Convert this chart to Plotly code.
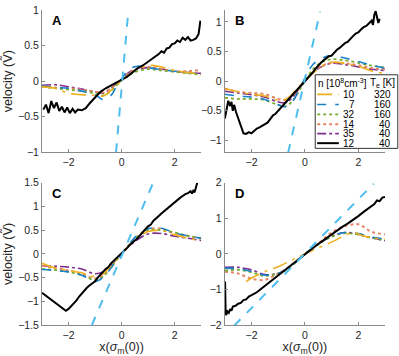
import plotly.graph_objects as go

# ---------------- data ----------------
X_GRID = [-3, -2.5, -2, -1.5, -1, -0.7, -0.4, -0.2, 0, 0.3, 0.6, 1, 1.5, 2, 2.5, 3]

N_LABELS = ["10", "7", "32", "14", "35", "12"]
TE_LABELS = ["320", "160", "160", "40", "40", "40"]

# Panel A
A_10 = [-0.08, -0.10, -0.17, -0.19, -0.20, -0.21, -0.13, -0.06, 0.0, 0.10, 0.17, 0.22, 0.20, 0.15, 0.12, 0.10]
A_7 = [-0.07, -0.09, -0.10, -0.14, -0.19, -0.26, -0.20, -0.08, 0.03, 0.17, 0.21, 0.19, 0.16, 0.14, 0.12, 0.10]
A_32 = [-0.08, -0.10, -0.12, -0.14, -0.17, -0.20, -0.14, -0.06, 0.01, 0.09, 0.14, 0.17, 0.15, 0.13, 0.11, 0.09]
A_14 = [-0.07, -0.09, -0.10, -0.12, -0.15, -0.16, -0.10, -0.04, 0.02, 0.12, 0.18, 0.20, 0.17, 0.14, 0.14, 0.16]
A_35 = [-0.06, -0.05, -0.08, -0.11, -0.15, -0.17, -0.10, -0.03, 0.03, 0.13, 0.17, 0.19, 0.17, 0.14, 0.12, 0.11]
A_12_x = [-2.95, -2.85, -2.75, -2.65, -2.55, -2.45, -2.35, -2.25, -2.15, -2.05, -1.95, -1.85, -1.75, -1.65,
          -1.5, -1.35, -1.2, -1.0, -0.8, -0.6, -0.4, -0.2, 0, 0.2, 0.4, 0.6, 0.8, 1.0, 1.2, 1.4, 1.5, 1.6,
          1.7, 1.8, 1.9, 2.0, 2.1, 2.2, 2.3, 2.4, 2.5, 2.6, 2.7, 2.8, 2.9, 2.97]
A_12_y = [-0.40, -0.33, -0.45, -0.28, -0.38, -0.30, -0.42, -0.36, -0.44, -0.37, -0.45, -0.39, -0.44, -0.40,
          -0.41, -0.38, -0.31, -0.23, -0.15, -0.10, -0.06, -0.02, 0.01, 0.06, 0.12, 0.18, 0.22, 0.27, 0.32,
          0.38, 0.42, 0.40, 0.46, 0.47, 0.52, 0.53, 0.57, 0.55, 0.61, 0.58, 0.62, 0.57, 0.58, 0.60, 0.66, 0.85]
A_FIT_X = [-0.21, 0.26]
A_FIT_Y = [-1.0, 1.02]

# Panel B
B_10 = [-0.12, -0.18, -0.22, -0.25, -0.32, -0.30, -0.18, -0.08, 0.0, 0.13, 0.24, 0.32, 0.30, 0.25, 0.17, 0.13]
B_7 = [-0.22, -0.25, -0.27, -0.31, -0.40, -0.43, -0.30, -0.13, 0.05, 0.28, 0.38, 0.43, 0.39, 0.33, 0.27, 0.22]
B_32 = [-0.28, -0.30, -0.30, -0.32, -0.40, -0.42, -0.30, -0.15, 0.0, 0.20, 0.31, 0.37, 0.35, 0.31, 0.26, 0.23]
B_14 = [-0.13, -0.18, -0.20, -0.22, -0.30, -0.32, -0.22, -0.10, 0.0, 0.15, 0.25, 0.31, 0.30, 0.27, 0.22, 0.20]
B_35 = [-0.17, -0.20, -0.23, -0.27, -0.35, -0.36, -0.24, -0.11, 0.0, 0.15, 0.24, 0.30, 0.28, 0.24, 0.20, 0.18]
B_12_x = [-3.0, -2.93, -2.87, -2.8, -2.75, -2.7, -2.65, -2.58, -2.5, -2.4, -2.3, -2.2, -2.1, -2.0, -1.9, -1.8,
          -1.7, -1.6, -1.5, -1.4, -1.3, -1.2, -1.1, -1.0, -0.9, -0.8, -0.7, -0.6, -0.5, -0.4, -0.3, -0.2,
          -0.1, 0, 0.1, 0.2, 0.3, 0.4, 0.5, 0.6, 0.7, 0.8, 0.9, 1.0, 1.1, 1.2, 1.3, 1.4, 1.5, 1.6, 1.7,
          1.8, 1.9, 2.0, 2.1, 2.2, 2.3, 2.4, 2.5, 2.55, 2.6, 2.65, 2.7, 2.75, 2.8]
B_12_y = [-0.63, -0.45, -0.33, -0.42, -0.35, -0.50, -0.40, -0.52, -0.62, -0.75, -0.88, -0.89, -0.86, -0.88,
          -0.84, -0.80, -0.78, -0.75, -0.73, -0.70, -0.64, -0.58, -0.55, -0.50, -0.46, -0.40, -0.35, -0.30,
          -0.25, -0.20, -0.15, -0.10, -0.05, 0.0, 0.05, 0.10, 0.15, 0.21, 0.27, 0.31, 0.35, 0.38, 0.42, 0.43,
          0.49, 0.53, 0.56, 0.60, 0.64, 0.66, 0.72, 0.76, 0.80, 0.82, 0.87, 0.91, 0.93, 0.98, 1.02, 0.95,
          1.12, 1.18, 1.10, 0.98, 1.05]
B_FIT_X = [-0.63, 0.57]
B_FIT_Y = [-1.21, 1.17]

# Panel C
C_10 = [-0.20, -0.30, -0.35, -0.40, -0.48, -0.42, -0.25, -0.12, 0.0, 0.18, 0.33, 0.47, 0.49, 0.40, 0.33, 0.27]
C_7 = [-0.33, -0.35, -0.38, -0.45, -0.58, -0.50, -0.30, -0.15, 0.0, 0.22, 0.40, 0.53, 0.54, 0.44, 0.38, 0.33]
C_32 = [-0.32, -0.34, -0.38, -0.45, -0.55, -0.48, -0.28, -0.14, 0.0, 0.20, 0.37, 0.50, 0.50, 0.45, 0.38, 0.33]
C_14 = [-0.25, -0.30, -0.35, -0.42, -0.52, -0.45, -0.27, -0.13, 0.0, 0.20, 0.37, 0.52, 0.53, 0.42, 0.38, 0.32]
C_35 = [-0.25, -0.26, -0.28, -0.32, -0.42, -0.38, -0.24, -0.12, 0.0, 0.17, 0.30, 0.42, 0.43, 0.37, 0.33, 0.28]
C_12_x = [-3.0, -2.5, -2.1, -2.0, -1.9, -1.8, -1.7, -1.6, -1.5, -1.4, -1.3, -1.2, -1.1, -1.0, -0.9, -0.8,
          -0.7, -0.6, -0.5, -0.4, -0.3, -0.2, -0.1, 0, 0.1, 0.2, 0.3, 0.4, 0.5, 0.6, 0.7, 0.8, 0.9, 1.0,
          1.1, 1.2, 1.3, 1.4, 1.5, 1.6, 1.7, 1.8, 1.9, 2.0, 2.1, 2.2, 2.3, 2.4, 2.5, 2.6, 2.65, 2.7,
          2.75, 2.8, 2.85]
C_12_y = [-0.82, -1.03, -1.20, -1.16, -1.10, -1.05, -0.98, -0.90, -0.83, -0.78, -0.71, -0.66, -0.62, -0.58,
          -0.50, -0.45, -0.38, -0.32, -0.28, -0.20, -0.15, -0.10, -0.04, 0.0, 0.05, 0.12, 0.18, 0.24, 0.28,
          0.33, 0.40, 0.45, 0.52, 0.58, 0.62, 0.70, 0.76, 0.80, 0.85, 0.90, 0.95, 0.99, 1.03, 1.08, 1.13,
          1.18, 1.22, 1.26, 1.28, 1.32, 1.27, 1.33, 1.30, 1.42, 1.50]
C_FIT_X = [-1.12, 1.19]
C_FIT_Y = [-1.5, 1.5]

# Panel D
D_10_x = [-2.2, -2.0, -1.5, -1.0, -0.5, 0, 0.5, 1.0, 1.5, 1.8, 2.2, 2.6, 3.0]
D_10_y = [-0.78, -0.68, -0.50, -0.36, -0.18, 0.0, 0.17, 0.33, 0.52, 0.60, 0.50, 0.44, 0.41]
D_7 = [-0.40, -0.42, -0.50, -0.60, -0.55, -0.45, -0.27, -0.13, 0.0, 0.17, 0.33, 0.50, 0.60, 0.57, 0.47, 0.42]
D_32 = [-0.47, -0.45, -0.52, -0.62, -0.55, -0.45, -0.27, -0.13, 0.0, 0.16, 0.32, 0.48, 0.58, 0.54, 0.45, 0.40]
D_14 = [-0.50, -0.55, -0.70, -0.73, -0.55, -0.42, -0.25, -0.12, 0.0, 0.17, 0.35, 0.60, 0.78, 0.83, 0.62, 0.55]
D_35 = [-0.38, -0.38, -0.45, -0.58, -0.55, -0.44, -0.27, -0.13, 0.0, 0.16, 0.32, 0.50, 0.60, 0.55, 0.45, 0.37]
D_12_x = [-3.0, -2.99, -2.98, -2.97, -2.95, -2.9, -2.85, -2.8, -2.75, -2.7, -2.6, -2.5, -2.4, -2.3, -2.2,
          -2.1, -2.0, -1.8, -1.6, -1.4, -1.2, -1.0, -0.8, -0.6, -0.4, -0.2, 0, 0.2, 0.4, 0.6, 0.8, 1.0,
          1.2, 1.4, 1.6, 1.8, 2.0, 2.2, 2.4, 2.6, 2.7, 2.8, 2.9, 3.0]
D_12_y = [-1.38, -0.78, -1.20, -1.55, -1.72, -1.62, -1.66, -1.55, -1.60, -1.48, -1.46, -1.40, -1.38, -1.30,
          -1.28, -1.20, -1.16, -1.08, -0.96, -0.84, -0.72, -0.62, -0.50, -0.38, -0.24, -0.12, 0.0, 0.11,
          0.22, 0.33, 0.44, 0.55, 0.66, 0.76, 0.85, 0.95, 1.06, 1.18, 1.30, 1.40, 1.50, 1.48, 1.58, 1.60]
D_FIT_X = [-2.65, 2.57]
D_FIT_Y = [-2.02, 1.97]

Y_RANGES = [[-1, 1], [-1.2, 1.2], [-1.5, 1.5], [-2, 2]]
Y_TICKS = [[-1, -0.5, 0, 0.5, 1], [-1, -0.5, 0, 0.5, 1], [-1.5, -1, -0.5, 0, 0.5, 1, 1.5], [-2, -1, 0, 1, 2]]
X_TICKS = [-2, 0, 2]
PANEL_LETTERS = ["A", "B", "C", "D"]

# ---------------- styles ----------------
STYLES = {
    "10": dict(color="#EDB120", dash="longdashdot", width=1.6),
    "7": dict(color="#1a80c8", dash="dash", width=1.6),
    "32": dict(color="#77AC30", dash="dot", width=1.8),
    "14": dict(color="#E48462", dash="dot", width=2.0),
    "35": dict(color="#7E2F8E", dash="dashdot", width=1.6),
    "12": dict(color="#000000", dash="solid", width=2.0),
}
FIT_STYLE = dict(color="#4DBEEE", dash="dash", width=2)

panels = [
    dict(series={"10": (X_GRID, A_10), "7": (X_GRID, A_7), "32": (X_GRID, A_32), "14": (X_GRID, A_14),
                 "35": (X_GRID, A_35), "12": (A_12_x, A_12_y)}, fit=(A_FIT_X, A_FIT_Y)),
    dict(series={"10": (X_GRID, B_10), "7": (X_GRID, B_7), "32": (X_GRID, B_32), "14": (X_GRID, B_14),
                 "35": (X_GRID, B_35), "12": (B_12_x, B_12_y)}, fit=(B_FIT_X, B_FIT_Y)),
    dict(series={"10": (X_GRID, C_10), "7": (X_GRID, C_7), "32": (X_GRID, C_32), "14": (X_GRID, C_14),
                 "35": (X_GRID, C_35), "12": (C_12_x, C_12_y)}, fit=(C_FIT_X, C_FIT_Y)),
    dict(series={"10": (D_10_x, D_10_y), "7": (X_GRID, D_7), "32": (X_GRID, D_32), "14": (X_GRID, D_14),
                 "35": (X_GRID, D_35), "12": (D_12_x, D_12_y)}, fit=(D_FIT_X, D_FIT_Y)),
]

W, H = 399, 356
ML, MR, MT, MB = 36, 14, 4, 31
PW, PH = W - ML - MR, H - MT - MB


def px_x(px):
    return (px - ML) / PW


def px_y(py):
    return (H - MB - py) / PH


x_domains = [[0, px_x(198)], [px_x(222), 1], [0, px_x(198)], [px_x(222), 1]]
y_domains = [[px_y(149), 1], [px_y(149), 1], [0, px_y(180)], [0, px_y(180)]]

fig = go.Figure()
draw_order = ["35", "14", "32", "7", "10", "12"]
for i, p in enumerate(panels):
    ax = "" if i == 0 else str(i + 1)
    for key in draw_order:
        xs, ys = p["series"][key]
        st = STYLES[key]
        fig.add_trace(go.Scatter(x=xs, y=ys, mode="lines", xaxis="x" + ax, yaxis="y" + ax,
                                 line=dict(color=st["color"], dash=st["dash"], width=st["width"],
                                           shape="linear" if key == "12" else "spline"),
                                 showlegend=False, hoverinfo="skip"))
    fx, fy = p["fit"]
    fig.add_trace(go.Scatter(x=fx, y=fy, mode="lines", xaxis="x" + ax, yaxis="y" + ax,
                             line=FIT_STYLE, showlegend=False, hoverinfo="skip"))

axis_common = dict(showline=True, linecolor="#8a8a8a", linewidth=1, ticks="inside", ticklen=3,
                   tickcolor="#8a8a8a", showgrid=False, zeroline=False,
                   tickfont=dict(family="Liberation Sans, Arial", size=10.5, color="#262626"))

layout = dict(width=W, height=H, margin=dict(l=ML, r=MR, t=MT, b=MB), plot_bgcolor="white",
              paper_bgcolor="white", showlegend=False)
title_font = dict(family="Liberation Sans, Arial", size=12.5, color="#262626")
for i in range(4):
    sfx = "" if i == 0 else str(i + 1)
    xa = dict(axis_common, domain=x_domains[i], range=[-3, 3], tickvals=X_TICKS,
              anchor="y" + sfx)
    ya = dict(axis_common, domain=y_domains[i], range=Y_RANGES[i], tickvals=Y_TICKS[i],
              anchor="x" + sfx)
    if i >= 2:
        xa["title"] = dict(text="x(<i>σ</i><sub>m</sub>(0))", font=title_font, standoff=2)
    if i in (0, 2):
        ya["title"] = dict(text="velocity (<span style='font-family:DejaVu Sans'>V\u0303</span>)",
                           font=title_font, standoff=5)
    layout["xaxis" + sfx] = xa
    layout["yaxis" + sfx] = ya

annotations = []
for i, letter in enumerate(PANEL_LETTERS):
    sfx = "" if i == 0 else str(i + 1)
    annotations.append(dict(text="<b>" + letter + "</b>", xref="x" + sfx + " domain",
                            yref="y" + sfx + " domain", x=0.05, y=0.925, xanchor="left",
                            yanchor="middle", showarrow=False,
                            font=dict(family="Liberation Sans, Arial", size=13, color="#000000")))

# legend box (drawn manually, MATLAB style)
leg_font = dict(family="Liberation Sans, Arial", size=10, color="#000000")
shapes = [dict(type="rect", xref="paper", yref="paper", x0=px_x(314), x1=px_x(398), y0=px_y(145),
               y1=px_y(70), line=dict(color="#333333", width=1), fillcolor="white", layer="above")]
annotations.append(dict(text="n [10<sup>8</sup>cm<sup>-3</sup>]", xref="paper", yref="paper",
                        x=px_x(315), y=px_y(78), xanchor="left", yanchor="middle", showarrow=False,
                        font=leg_font))
annotations.append(dict(text="T<sub>e</sub> [K]", xref="paper", yref="paper",
                        x=px_x(397), y=px_y(78), xanchor="right", yanchor="middle", showarrow=False,
                        font=leg_font))
row_y = [90, 100.3, 110.3, 120.3, 130, 139.7]
for k, (n, te) in enumerate(zip(N_LABELS, TE_LABELS)):
    st = STYLES[n]
    shapes.append(dict(type="line", xref="paper", yref="paper", x0=px_x(316), x1=px_x(338),
                       y0=px_y(row_y[k]), y1=px_y(row_y[k]),
                       line=dict(color=st["color"], dash=st["dash"], width=st["width"]), layer="above"))
    annotations.append(dict(text=n, xref="paper", yref="paper", x=px_x(357), y=px_y(row_y[k]),
                            xanchor="right", yanchor="middle", showarrow=False, font=leg_font))
    annotations.append(dict(text=te, xref="paper", yref="paper", x=px_x(393), y=px_y(row_y[k]),
                            xanchor="right", yanchor="middle", showarrow=False, font=leg_font))

layout["annotations"] = annotations
layout["shapes"] = shapes
fig.update_layout(**layout)
fig.write_html("out.html", config={"displayModeBar": False},
               post_script="document.body.style.margin='0px';")
